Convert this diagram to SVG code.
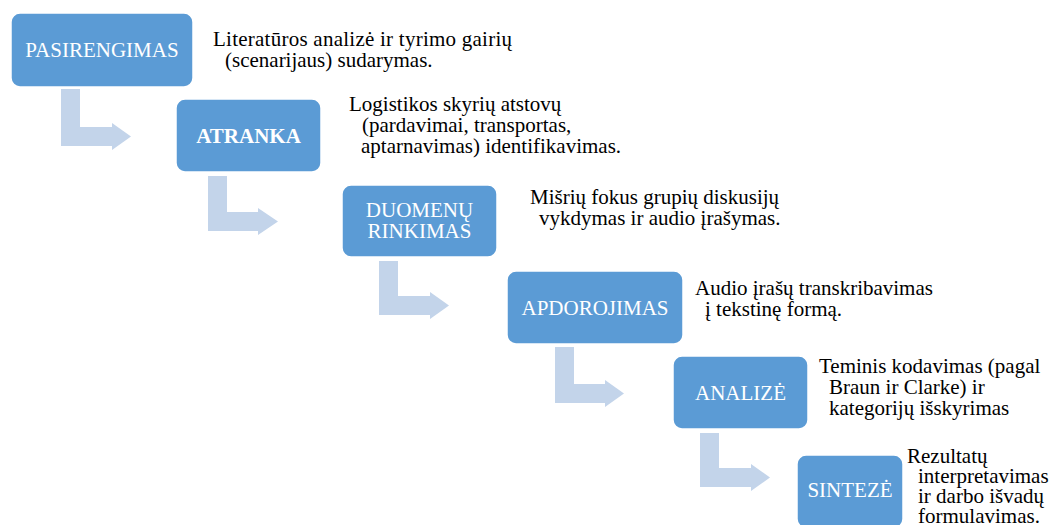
<svg xmlns="http://www.w3.org/2000/svg" width="1058" height="525" viewBox="0 0 1058 525">
  <style>
    .box { fill: #5B9BD5; stroke: #FFFFFF; stroke-width: 1.5; }
    .lbl { font-size: 21px; fill: #FFFFFF; text-anchor: middle; }
    .bold { font-weight: bold; }
    .note { font-size: 21px; fill: #000000; }
    .arrow { fill: #C3D4EA; }
  </style>
  <rect width="1058" height="525" fill="#FFFFFF"/>

  <!-- bent arrows between steps -->
  <g id="connectors">
    <path class="arrow" d="M61,89 H80 V127 H112 V123 L131,136.5 L112,150 V146 H61 Z"/>
    <path class="arrow" d="M208,176 H227 V212 H258 V208 L278,221.5 L258,235 V231 H208 Z"/>
    <path class="arrow" d="M379,261 H398 V296 H430 V292 L449,305.5 L430,319 V315 H379 Z"/>
    <path class="arrow" d="M555,347 H574 V384 H605 V380 L624,393.5 L605,407 V403 H555 Z"/>
    <path class="arrow" d="M700,433 H719 V468 H751 V464 L770,477.5 L751,491 V487 H700 Z"/>
  </g>

  <g font-family="Liberation Serif, Tinos, Times New Roman, DejaVu Serif, serif">
  <g id="pasirengimas">
    <rect class="box" x="11" y="13" width="182" height="74" rx="9"/>
    <text class="lbl" x="102" y="57">PASIRENGIMAS</text>
  </g>
  <g id="pasirengimas-note">
    <text class="note" x="213" y="46" textLength="299" lengthAdjust="spacing">Literatūros analizė ir tyrimo gairių</text>
    <text class="note" x="225" y="67">(scenarijaus) sudarymas.</text>
  </g>

  <g id="atranka">
    <rect class="box" x="176" y="99" width="145" height="73" rx="9"/>
    <text class="lbl bold" x="248.5" y="143">ATRANKA</text>
  </g>
  <g id="atranka-note">
    <text class="note" x="349" y="111">Logistikos skyrių atstovų</text>
    <text class="note" x="362" y="132">(pardavimai, transportas,</text>
    <text class="note" x="361" y="153">aptarnavimas) identifikavimas.</text>
  </g>

  <g id="duomenu-rinkimas">
    <rect class="box" x="342" y="185" width="155" height="72" rx="9"/>
    <text class="lbl" x="419.5" y="217">DUOMENŲ</text>
    <text class="lbl" x="419.5" y="238">RINKIMAS</text>
  </g>
  <g id="duomenu-rinkimas-note">
    <text class="note" x="530" y="204">Mišrių fokus grupių diskusijų</text>
    <text class="note" x="539" y="225">vykdymas ir audio įrašymas.</text>
  </g>

  <g id="apdorojimas">
    <rect class="box" x="507" y="271" width="176" height="73" rx="9"/>
    <text class="lbl" x="595" y="314.5">APDOROJIMAS</text>
  </g>
  <g id="apdorojimas-note">
    <text class="note" x="695" y="295">Audio įrašų transkribavimas</text>
    <text class="note" x="705" y="316">į tekstinę formą.</text>
  </g>

  <g id="analize">
    <rect class="box" x="673" y="356" width="135" height="73" rx="9"/>
    <text class="lbl" x="740.5" y="399.5">ANALIZĖ</text>
  </g>
  <g id="analize-note">
    <text class="note" x="819" y="373">Teminis kodavimas (pagal</text>
    <text class="note" x="829" y="394">Braun ir Clarke) ir</text>
    <text class="note" x="829" y="415">kategorijų išskyrimas</text>
  </g>

  <g id="sinteze">
    <rect class="box" x="797" y="455" width="106" height="73" rx="9"/>
    <text class="lbl" x="850" y="497">SINTEZĖ</text>
  </g>
  <g id="sinteze-note">
    <text class="note" x="907" y="463">Rezultatų</text>
    <text class="note" x="918" y="483">interpretavimas</text>
    <text class="note" x="918" y="503">ir darbo išvadų</text>
    <text class="note" x="918" y="523">formulavimas.</text>
  </g>
  </g>
</svg>
